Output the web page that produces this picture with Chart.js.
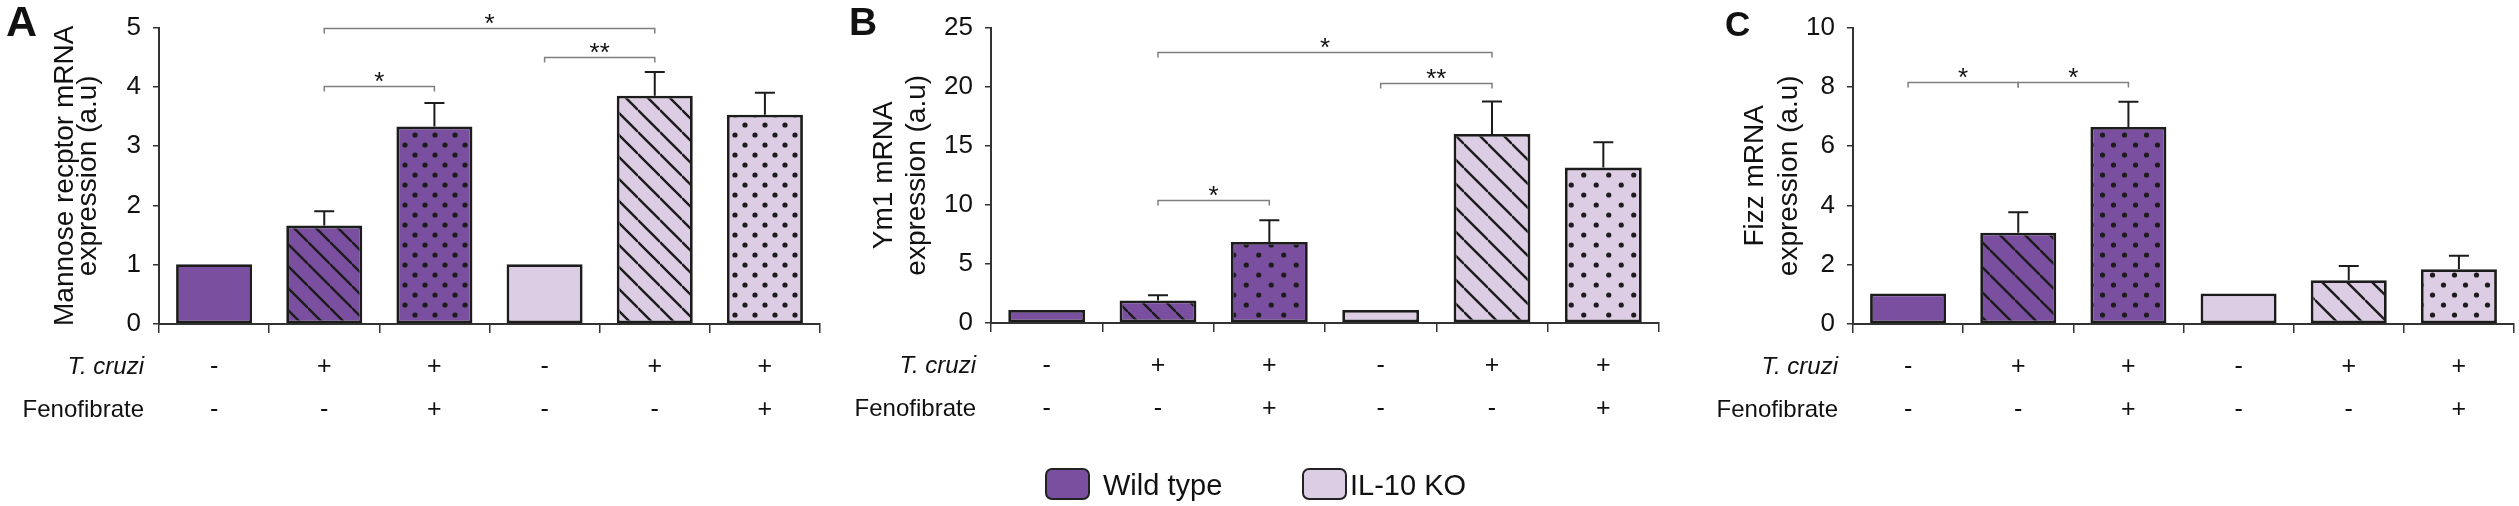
<!DOCTYPE html>
<html>
<head>
<meta charset="utf-8">
<script src="https://cdn.jsdelivr.net/npm/chart.js@4.4.0/dist/chart.umd.min.js"></script>
<style>
    body { margin: 0; width: 2519px; height: 506px; background: #fff; position: relative; overflow: hidden;
           font-family: "Liberation Sans", Arial, sans-serif; }
    canvas { position: absolute; top: 0; }
    .legend-box { position: absolute; top: 468px; width: 41px; height: 28px; border: 2px solid #222; border-radius: 7px; }
    .legend-text { position: absolute; top: 467px; font-size: 29px; line-height: 36px; color: #111; }
</style>
</head>
<body>
<canvas id="chartA" width="835" height="506" style="left:0px"></canvas>
<canvas id="chartB" width="840" height="506" style="left:840px"></canvas>
<canvas id="chartC" width="829" height="506" style="left:1690px"></canvas>

<div class="legend-box" style="left:1045px; background:#7b4fa0"></div>
<div class="legend-text" style="left:1103px">Wild type</div>
<div class="legend-box" style="left:1302px; background:#dccce4"></div>
<div class="legend-text" style="left:1350px">IL-10 KO</div>

<script>
// Treatment rows under the bars
const tcruziRow = ["-", "+", "+", "-", "+", "+"];
const fenofibrateRow = ["-", "-", "+", "-", "-", "+"];
const genotype = ["Wild type", "Wild type", "Wild type", "IL-10 KO", "IL-10 KO", "IL-10 KO"];

// A - Mannose receptor
const mannoseValues = [1.01, 1.66, 3.33, 1.01, 3.85, 3.53];
const mannoseErrors = [0, 0.24, 0.40, 0, 0.40, 0.37];
const mannoseTicks = [0, 1, 2, 3, 4, 5];
const mannoseBrackets = [[1, 4, 5.0, "*"], [3, 4, 4.51, "**"], [1, 2, 4.01, "*"]];

// B - Ym1
const ym1Values = [1.1, 1.9, 6.85, 1.1, 16.0, 13.15];
const ym1Errors = [0, 0.45, 1.85, 0, 2.75, 2.15];
const ym1Ticks = [0, 5, 10, 15, 20, 25];
const ym1Brackets = [[1, 4, 22.9, "*"], [3, 4, 20.35, "**"], [1, 2, 10.45, "*"]];

// C - Fizz
const fizzValues = [1.03, 3.08, 6.65, 1.03, 1.48, 1.85];
const fizzErrors = [0, 0.69, 0.85, 0, 0.48, 0.45];
const fizzTicks = [0, 2, 4, 6, 8, 10];
const fizzBrackets = [[0, 1, 8.17, "*"], [1, 2, 8.17, "*"]];

const labels = tcruziRow.map((t, i) => [t, fenofibrateRow[i]]);

const FONT = '"Liberation Sans", Arial, sans-serif';
const DARK = "#7b4fa0";
const LIGHT = "#dccce4";
const INK = "#1c1c1c";

// Layout of each panel (pixels on the page)
const panels = [
    { id: "chartA", left: 0, width: 835, axisX: 159, axisEnd: 820, top: 19, zeroY: 324,
      title: ["Mannose recptor mRNA", "expression (a.u)"], titleLH: 23, titleCenter: 65,
      letter: "A", letterX: 6, letterY: 36, letterSize: 43, hatch: 22, dotW: 20,
      values: mannoseValues, errors: mannoseErrors, ticks: mannoseTicks, brackets: mannoseBrackets },
    { id: "chartB", left: 840, width: 840, axisX: 991, axisEnd: 1659, top: 17, zeroY: 323,
      title: ["Ym1 mRNA", "expression (a.u)"], titleLH: 33, titleCenter: 884,
      letter: "B", letterX: 9, letterY: 35, letterSize: 39, hatch: 24, dotW: 25,
      values: ym1Values, errors: ym1Errors, ticks: ym1Ticks, brackets: ym1Brackets },
    { id: "chartC", left: 1690, width: 829, axisX: 1853, axisEnd: 2514, top: 19, zeroY: 324,
      title: ["Fizz mRNA", "expression (a.u)"], titleLH: 34, titleCenter: 1755,
      letter: "C", letterX: 35, letterY: 36, letterSize: 35, hatch: 25, dotW: 22,
      values: fizzValues, errors: fizzErrors, ticks: fizzTicks, brackets: fizzBrackets }
];

// Fill patterns
function hatchPattern(ctx, base, s) {
    const c = document.createElement("canvas");
    c.width = s; c.height = s;
    const p = c.getContext("2d");
    p.fillStyle = base;
    p.fillRect(0, 0, s, s);
    p.strokeStyle = INK;
    p.lineWidth = 2.4;
    for (let k = -1; k <= 1; k++) {
        p.beginPath();
        p.moveTo(0, k * s);
        p.lineTo(s, s + k * s);
        p.stroke();
    }
    return ctx.createPattern(c, "repeat");
}

function dotPattern(ctx, base, w) {
    const h = 20;
    const c = document.createElement("canvas");
    c.width = w; c.height = h;
    const p = c.getContext("2d");
    p.fillStyle = base;
    p.fillRect(0, 0, w, h);
    p.fillStyle = INK;
    [[w / 4, 5], [w * 3 / 4, 15]].forEach(([x, y]) => {
        p.beginPath();
        p.arc(x, y, 2.6, 0, Math.PI * 2);
        p.fill();
    });
    return ctx.createPattern(c, "repeat");
}

function fillFor(ctx, i, panel) {
    const base = genotype[i] === "Wild type" ? DARK : LIGHT;
    if (tcruziRow[i] === "+" && fenofibrateRow[i] === "+") return dotPattern(ctx, base, panel.dotW);
    if (tcruziRow[i] === "+") return hatchPattern(ctx, base, panel.hatch);
    return base;
}

// Error bars, significance brackets, row headers and panel letter
function overlayPlugin(panel) {
    return {
        id: "overlay" + panel.letter,
        afterDatasetsDraw(chart) {
            const ctx = chart.ctx;
            const y = chart.scales.y;
            const meta = chart.getDatasetMeta(0);
            ctx.save();
            ctx.strokeStyle = INK;
            ctx.lineWidth = 2;
            panel.values.forEach((v, i) => {
                if (!panel.errors[i]) return;
                const x = meta.data[i].x;
                const y0 = y.getPixelForValue(v);
                const y1 = y.getPixelForValue(v + panel.errors[i]);
                ctx.beginPath();
                ctx.moveTo(x, y0); ctx.lineTo(x, y1);
                ctx.moveTo(x - 10, y1); ctx.lineTo(x + 10, y1);
                ctx.stroke();
            });
            ctx.restore();
        },
        afterDraw(chart) {
            const ctx = chart.ctx;
            const y = chart.scales.y;
            const xs = chart.scales.x;
            const meta = chart.getDatasetMeta(0);
            ctx.save();

            // brackets
            ctx.strokeStyle = "#7f7f7f";
            ctx.lineWidth = 1.5;
            ctx.fillStyle = "#111";
            ctx.font = "26px " + FONT;
            ctx.textAlign = "center";
            ctx.textBaseline = "alphabetic";
            panel.brackets.forEach(([a, b, v, star]) => {
                const xa = meta.data[a].x, xb = meta.data[b].x;
                const yy = Math.round(y.getPixelForValue(v)) + 0.5;
                ctx.beginPath();
                ctx.moveTo(xa, yy + 5); ctx.lineTo(xa, yy);
                ctx.lineTo(xb, yy); ctx.lineTo(xb, yy + 5);
                ctx.stroke();
                ctx.fillText(star, (xa + xb) / 2, yy + 3);
            });

            // row headers
            const rowY = xs.top + 43;
            const rx = panel.axisX - panel.left - 15;
            ctx.textAlign = "right";
            ctx.textBaseline = "middle";
            ctx.font = "italic 24px " + FONT;
            ctx.fillText("T. cruzi", rx, rowY);
            ctx.font = "24px " + FONT;
            ctx.fillText("Fenofibrate", rx, rowY + 43);

            // panel letter
            ctx.textAlign = "left";
            ctx.textBaseline = "alphabetic";
            ctx.font = "bold " + panel.letterSize + "px " + FONT;
            ctx.fillText(panel.letter, panel.letterX, panel.letterY);
            ctx.restore();
        }
    };
}

function makeChart(panel) {
    const ctx = document.getElementById(panel.id).getContext("2d");
    const ticks = panel.ticks;
    return new Chart(ctx, {
        type: "bar",
        data: {
            labels,
            datasets: [{
                data: panel.values,
                backgroundColor: labels.map((_, i) => fillFor(ctx, i, panel)),
                borderColor: INK,
                borderWidth: 2.8,
                borderSkipped: false,
                barPercentage: 0.69,
                categoryPercentage: 1
            }]
        },
        options: {
            responsive: false,
            animation: false,
            devicePixelRatio: 1,
            events: [],
            layout: { padding: { left: 0, top: panel.top, bottom: 0, right: panel.width - (panel.axisEnd - panel.left) } },
            plugins: { legend: { display: false }, tooltip: { enabled: false } },
            scales: {
                x: {
                    offset: true,
                    grid: { display: true, offset: true, drawOnChartArea: false, drawTicks: true, tickLength: 9, color: "#333", lineWidth: 1.5 },
                    border: { display: true, color: "#333", width: 2 },
                    ticks: { autoSkip: false, maxRotation: 0, color: "#111", padding: 12.5,
                             font: { family: FONT, size: 25, lineHeight: 43 / 25 } },
                    afterFit: s => { s.height = 506 - panel.zeroY; }
                },
                y: {
                    min: ticks[0],
                    max: ticks[ticks.length - 1],
                    grid: { drawOnChartArea: false, drawTicks: true, tickLength: 6, color: "#333", lineWidth: 1.5 },
                    border: { display: true, color: "#333", width: 2 },
                    ticks: { stepSize: ticks[1] - ticks[0], color: "#111", padding: 12, font: { family: FONT, size: 26 } },
                    title: {
                        display: true,
                        text: panel.title,
                        color: "#111",
                        font: { family: FONT, size: 28, lineHeight: panel.titleLH / 28 },
                        padding: { top: panel.titleCenter - panel.left - panel.titleLH / 2, bottom: 0 }
                    },
                    afterFit: s => { s.width = panel.axisX - panel.left; }
                }
            }
        },
        plugins: [overlayPlugin(panel)]
    });
}

panels.forEach(makeChart);
</script>
</body>
</html>
